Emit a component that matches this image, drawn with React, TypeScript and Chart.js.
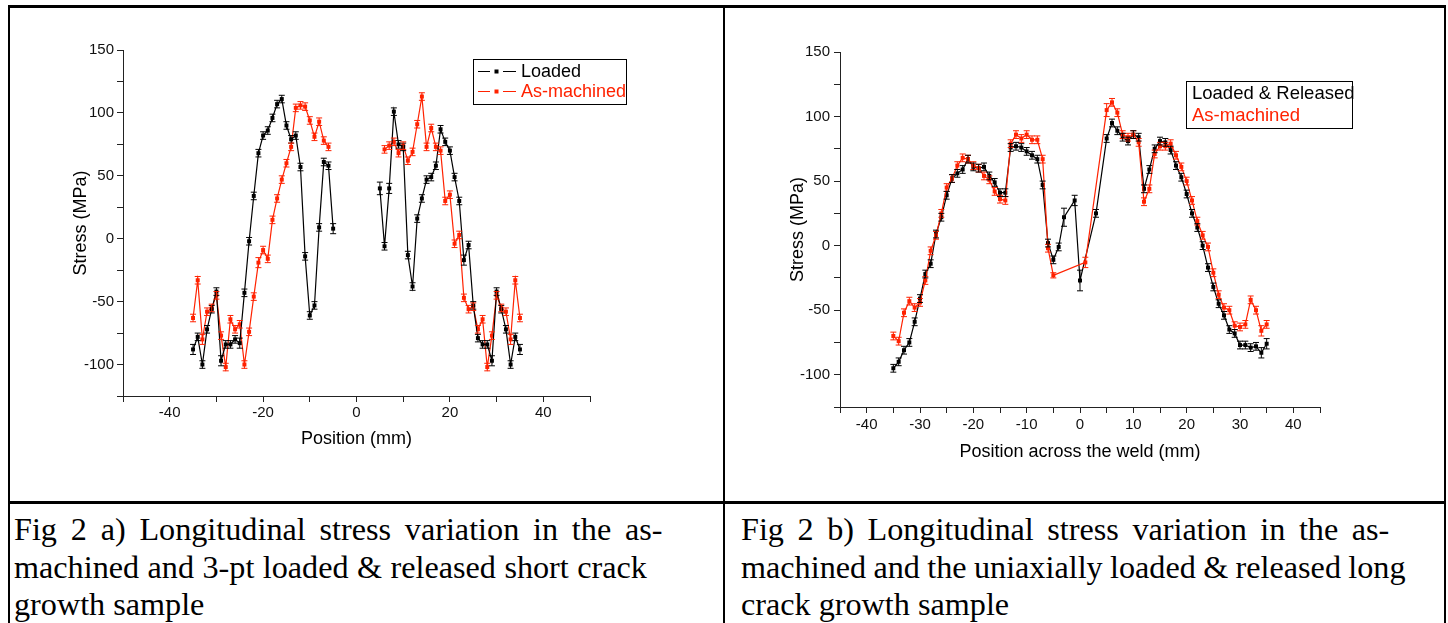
import React, { useEffect, useRef } from 'react';
import { Chart, registerables } from 'chart.js';

Chart.register(...registerables);
Chart.defaults.font.family = '"Liberation Sans", Arial, sans-serif';

const BLACK = '#000000';
const RED = '#ff2200';

// ---------- Fig 2 a) ----------
const aLoadedLeftPos = [-35, -34, -33, -32, -31, -30, -29, -28, -27, -26, -25, -24, -23, -22, -21, -20, -19, -18, -17, -16, -15, -14, -13, -12, -11, -10, -9, -8, -7, -6, -5];
const aLoadedLeftStress = [-88, -78, -100, -72, -56, -42, -97, -84, -84, -80, -83, -43, -2, 34, 68, 82, 86, 96, 107, 111, 90, 79, 82, 57, -14, -61, -53, 9, 61, 58, 8];
const aLoadedLeftErr = [4, 3, 3, 3, 3, 3, 4, 3, 3, 3, 4, 3, 3, 3, 3, 3, 3, 3, 3, 3, 3, 3, 3, 3, 3, 3, 3, 3, 3, 3, 4];
const aLoadedRightPos = [5, 6, 7, 8, 9, 10, 11, 12, 13, 14, 15, 16, 17, 18, 19, 20, 21, 22, 23, 24, 25, 26, 27, 28, 29, 30, 31, 32, 33, 34, 35];
const aLoadedRightStress = [40, -6, 40, 101, 75, 73, -13, -38, 16, 32, 47, 49, 58, 87, 77, 70, 49, 30, -17, -5, -53, -79, -84, -84, -97, -42, -56, -72, -100, -78, -88];
const aLoadedRightErr = [5, 3, 4, 3, 3, 3, 3, 3, 3, 3, 3, 3, 3, 3, 3, 3, 3, 3, 4, 3, 3, 3, 3, 3, 4, 3, 3, 3, 3, 3, 4];

const aMachinedLeftPos = [-35, -34, -33, -32, -31, -30, -29, -28, -27, -26, -25, -24, -23, -22, -21, -20, -19, -18, -17, -16, -15, -14, -13, -12, -11, -10, -9, -8, -7, -6];
const aMachinedLeftStress = [-63, -33, -80, -58, -55, -45, -77, -102, -64, -72, -68, -100, -74, -46, -19, -9, -16, 15, 32, 47, 60, 73, 104, 106, 105, 94, 81, 93, 78, 73];
const aMachinedLeftErr = [3, 3, 4, 3, 3, 3, 3, 3, 3, 3, 3, 3, 3, 3, 4, 3, 3, 3, 3, 3, 3, 3, 3, 3, 3, 3, 3, 3, 3, 3];
const aMachinedRightPos = [6, 7, 8, 9, 10, 11, 12, 13, 14, 15, 16, 17, 18, 19, 20, 21, 22, 23, 24, 25, 26, 27, 28, 29, 30, 31, 32, 33, 34, 35];
const aMachinedRightStress = [71, 74, 77, 68, 74, 62, 69, 91, 113, 73, 88, 73, 70, 30, 35, -4, 3, -47, -56, -54, -72, -64, -102, -77, -45, -55, -58, -80, -33, -63];
const aMachinedRightErr = [3, 3, 3, 3, 3, 3, 3, 3, 3, 3, 3, 3, 3, 3, 3, 3, 3, 3, 3, 3, 3, 3, 3, 3, 3, 3, 3, 4, 3, 3];

const aXTickLabels = [-40, -20, 0, 20, 40];
const aYTickLabels = [-100, -50, 0, 50, 100, 150];

// ---------- Fig 2 b) ----------
const bReleasedPos = [-35, -34, -33, -32, -31, -30, -29, -28, -27, -26, -25, -24, -23, -22, -21, -20, -19, -18, -17, -16, -15, -14, -13, -12, -11, -10, -9, -8, -7, -6, -5, -4, -3, -1, 0, 3, 5, 6, 7, 8, 9, 10, 11, 12, 13, 14, 15, 16, 17, 18, 19, 20, 21, 22, 23, 24, 25, 26, 27, 28, 29, 30, 31, 32, 33, 34, 35];
const bReleasedStress = [-95, -90, -81, -75, -59, -41, -22, -14, 9, 22, 39, 52, 56, 59, 67, 61, 60, 61, 54, 49, 41, 41, 76, 77, 76, 73, 70, 67, 47, 2, -11, -1, 22, 35, -27, 25, 83, 95, 89, 84, 81, 86, 84, 44, 59, 75, 81, 80, 74, 62, 53, 40, 25, 14, 0, -17, -32, -45, -54, -65, -68, -77, -77, -79, -78, -83, -76];
const bReleasedErr = [3, 3, 3, 3, 3, 3, 3, 3, 3, 3, 3, 3, 3, 3, 3, 3, 3, 3, 3, 3, 3, 3, 3, 3, 3, 3, 3, 3, 3, 3, 3, 3, 7, 4, 8, 3, 3, 3, 3, 3, 3, 3, 3, 3, 3, 3, 3, 3, 3, 3, 3, 3, 3, 3, 3, 3, 3, 3, 3, 3, 3, 3, 3, 3, 3, 4, 4];

const bMachinedPos = [-35, -34, -33, -32, -31, -30, -29, -28, -27, -26, -25, -24, -23, -22, -21, -20, -19, -18, -17, -16, -15, -14, -13, -12, -11, -10, -9, -8, -7, -6, -5, 1, 5, 6, 7, 8, 9, 10, 11, 12, 13, 14, 15, 16, 17, 18, 19, 20, 21, 22, 23, 24, 25, 26, 27, 28, 29, 30, 31, 32, 33, 34, 35];
const bMachinedStress = [-70, -74, -52, -43, -48, -44, -27, -4, 8, 25, 45, 52, 62, 68, 67, 62, 60, 54, 51, 42, 36, 35, 79, 86, 83, 86, 82, 82, 67, -2, -23, -13, 105, 111, 103, 86, 84, 86, 80, 34, 44, 71, 77, 77, 79, 70, 61, 50, 35, 19, 8, -1, -21, -38, -48, -50, -62, -63, -61, -42, -50, -66, -61];
const bMachinedErr = [3, 3, 3, 3, 3, 3, 3, 3, 3, 3, 3, 3, 3, 3, 3, 3, 3, 3, 3, 3, 3, 3, 3, 3, 3, 3, 3, 3, 3, 3, 2, 4, 5, 3, 3, 3, 3, 3, 3, 3, 3, 3, 3, 3, 3, 3, 3, 3, 3, 3, 3, 3, 3, 3, 3, 3, 3, 3, 3, 3, 3, 4, 3];

const bXTickLabels = [-40, -30, -20, -10, 0, 10, 20, 30, 40];
const bYTickLabels = [-100, -50, 0, 50, 100, 150];

const captionA = ['Fig 2 a) Longitudinal stress variation in the as-', 'machined and 3-pt loaded & released short crack', 'growth sample'];
const captionB = ['Fig 2 b) Longitudinal stress variation in the as-', 'machined and the uniaxially loaded & released long', 'crack growth sample'];

type Seg = { pos: number[]; val: number[]; err: number[] };

function buildSeries(segs: Seg[]) {
  const data: { x: number; y: number | null }[] = [];
  const errors: number[] = [];
  segs.forEach((s, k) => {
    if (k > 0) {
      const prev = segs[k - 1];
      data.push({ x: (prev.pos[prev.pos.length - 1] + s.pos[0]) / 2, y: null });
      errors.push(0);
    }
    s.pos.forEach((p, i) => {
      data.push({ x: p, y: s.val[i] });
      errors.push(s.err[i]);
    });
  });
  return { data, errors };
}

function makeDataset(label: string, color: string, series: { data: any[]; errors: number[] }, order: number) {
  return {
    label,
    data: series.data,
    errors: series.errors,
    borderColor: color,
    backgroundColor: color,
    borderWidth: 1.2,
    pointStyle: 'rect',
    pointRadius: 2.8,
    pointBorderWidth: 0,
    pointBackgroundColor: color,
    spanGaps: false,
    tension: 0,
    order,
  } as any;
}

const errorBarPlugin = {
  id: 'errorBars',
  afterDatasetsDraw(chart: any) {
    const ctx = chart.ctx;
    const yScale = chart.scales.y;
    ctx.save();
    chart.data.datasets.forEach((ds: any, i: number) => {
      const meta = chart.getDatasetMeta(i);
      ctx.strokeStyle = ds.borderColor;
      ctx.lineWidth = 1;
      meta.data.forEach((pt: any, j: number) => {
        const raw = ds.data[j];
        if (raw.y === null || raw.y === undefined) return;
        const e = ds.errors[j];
        const yt = yScale.getPixelForValue(raw.y + e);
        const yb = yScale.getPixelForValue(raw.y - e);
        const x = pt.x;
        ctx.beginPath();
        ctx.moveTo(x, yt);
        ctx.lineTo(x, yb);
        ctx.moveTo(x - 3, yt);
        ctx.lineTo(x + 3, yt);
        ctx.moveTo(x - 3, yb);
        ctx.lineTo(x + 3, yb);
        ctx.stroke();
      });
    });
    ctx.restore();
  },
};

type LegendItem = { text: string; color: string; symbol: boolean; y: number };
type LegendCfg = { box: [number, number, number, number]; textX: number; fontSize: number; symX?: [number, number, number, number]; items: LegendItem[] };

function legendPlugin(cfg: LegendCfg) {
  return {
    id: 'figLegend',
    afterDraw(chart: any) {
      const ctx = chart.ctx;
      ctx.save();
      const [bx, by, bw, bh] = cfg.box;
      ctx.strokeStyle = '#000';
      ctx.lineWidth = 1;
      ctx.strokeRect(bx + 0.5, by + 0.5, bw, bh);
      ctx.font = `${cfg.fontSize}px "Liberation Sans", Arial, sans-serif`;
      ctx.textBaseline = 'middle';
      ctx.textAlign = 'left';
      cfg.items.forEach((it) => {
        if (it.symbol && cfg.symX) {
          const [l1, l2, r1, r2] = cfg.symX;
          ctx.strokeStyle = it.color;
          ctx.lineWidth = 1.2;
          ctx.beginPath();
          ctx.moveTo(l1, it.y + 0.5);
          ctx.lineTo(l2, it.y + 0.5);
          ctx.moveTo(r1, it.y + 0.5);
          ctx.lineTo(r2, it.y + 0.5);
          ctx.stroke();
          ctx.fillStyle = it.color;
          const cx = (l2 + r1) / 2;
          ctx.fillRect(cx - 2, it.y - 1.5, 4, 4);
        }
        ctx.fillStyle = it.color;
        ctx.fillText(it.text, cfg.textX, it.y + 1);
      });
      ctx.restore();
    },
  };
}

type AxisCfg = {
  xMin: number; xMax: number; xStep: number; xLabels: number[]; xTitle: string;
  yMin: number; yMax: number; yStep: number; yLabels: number[]; yTitle: string;
  padTop: number; padRight: number; yWidth: number; xHeight: number;
  xTickPad: number; yTickPad: number; xTitlePad: number; yTitlePad: number;
};

function makeOptions(c: AxisCfg) {
  const axisColor = '#222';
  return {
    responsive: false,
    animation: false,
    devicePixelRatio: 1,
    layout: { padding: { left: 0, top: c.padTop, right: c.padRight, bottom: 0 } },
    plugins: { legend: { display: false }, tooltip: { enabled: false } },
    scales: {
      x: {
        type: 'linear',
        min: c.xMin,
        max: c.xMax,
        afterFit: (s: any) => { s.height = c.xHeight; },
        ticks: {
          stepSize: c.xStep,
          autoSkip: false,
          maxRotation: 0,
          padding: c.xTickPad,
          color: '#111',
          font: { size: 15 },
          callback: (v: number) => (c.xLabels.includes(v) ? String(v) : ''),
        },
        grid: { drawOnChartArea: false, drawTicks: true, tickLength: 6, color: axisColor, tickColor: axisColor, lineWidth: 1 },
        border: { display: true, color: axisColor, width: 1 },
        title: { display: true, text: c.xTitle, color: '#000', font: { size: 18 }, padding: { top: 0, bottom: c.xTitlePad } },
      },
      y: {
        type: 'linear',
        min: c.yMin,
        max: c.yMax,
        afterFit: (s: any) => { s.width = c.yWidth; },
        ticks: {
          stepSize: c.yStep,
          autoSkip: false,
          padding: c.yTickPad,
          color: '#111',
          font: { size: 15 },
          callback: (v: number) => (c.yLabels.includes(v) ? String(v) : ''),
        },
        grid: { drawOnChartArea: false, drawTicks: true, tickLength: 6, color: axisColor, tickColor: axisColor, lineWidth: 1 },
        border: { display: true, color: axisColor, width: 1 },
        title: { display: true, text: c.yTitle, color: '#000', font: { size: 18 }, padding: { top: c.yTitlePad, bottom: 0 } },
      },
    },
  } as any;
}

function ChartA() {
  const ref = useRef<HTMLCanvasElement>(null);
  useEffect(() => {
    if (!ref.current) return;
    const loaded = buildSeries([
      { pos: aLoadedLeftPos, val: aLoadedLeftStress, err: aLoadedLeftErr },
      { pos: aLoadedRightPos, val: aLoadedRightStress, err: aLoadedRightErr },
    ]);
    const machined = buildSeries([
      { pos: aMachinedLeftPos, val: aMachinedLeftStress, err: aMachinedLeftErr },
      { pos: aMachinedRightPos, val: aMachinedRightStress, err: aMachinedRightErr },
    ]);
    const chart = new Chart(ref.current, {
      type: 'line',
      data: {
        datasets: [
          makeDataset('Loaded', BLACK, loaded, 1),
          makeDataset('As-machined', RED, machined, 2),
        ],
      },
      options: makeOptions({
        xMin: -50, xMax: 50, xStep: 10, xLabels: aXTickLabels, xTitle: 'Position (mm)',
        yMin: -125, yMax: 150, yStep: 25, yLabels: aYTickLabels, yTitle: 'Stress (MPa)',
        padTop: 50, padRight: 134, yWidth: 123, xHeight: 84,
        xTickPad: 2, yTickPad: 3, xTitlePad: 30, yTitlePad: 70,
      }),
      plugins: [
        errorBarPlugin,
        legendPlugin({
          box: [473, 59, 153, 45],
          textX: 521,
          fontSize: 18,
          symX: [478, 490, 503, 516],
          items: [
            { text: 'Loaded', color: BLACK, symbol: true, y: 71 },
            { text: 'As-machined', color: RED, symbol: true, y: 91 },
          ],
        }),
      ],
    } as any);
    return () => chart.destroy();
  }, []);
  return <canvas ref={ref} width={724} height={480} style={{ position: 'absolute', left: 0, top: 0, width: 724, height: 480 }} />;
}

function ChartB() {
  const ref = useRef<HTMLCanvasElement>(null);
  useEffect(() => {
    if (!ref.current) return;
    const released = buildSeries([{ pos: bReleasedPos, val: bReleasedStress, err: bReleasedErr }]);
    const machined = buildSeries([{ pos: bMachinedPos, val: bMachinedStress, err: bMachinedErr }]);
    const chart = new Chart(ref.current, {
      type: 'line',
      data: {
        datasets: [
          makeDataset('As-machined', RED, machined, 1),
          makeDataset('Loaded & Released', BLACK, released, 2),
        ],
      },
      options: makeOptions({
        xMin: -45, xMax: 45, xStep: 5, xLabels: bXTickLabels, xTitle: 'Position across the weld (mm)',
        yMin: -125, yMax: 150, yStep: 25, yLabels: bYTickLabels, yTitle: 'Stress (MPa)',
        padTop: 52, padRight: 128, yWidth: 116, xHeight: 73,
        xTickPad: 3, yTickPad: 4, xTitlePad: 17, yTitlePad: 63,
      }),
      plugins: [
        errorBarPlugin,
        legendPlugin({
          box: [462, 81, 166, 47],
          textX: 468,
          fontSize: 18.5,
          items: [
            { text: 'Loaded & Released', color: BLACK, symbol: false, y: 93 },
            { text: 'As-machined', color: RED, symbol: false, y: 115 },
          ],
        }),
      ],
    } as any);
    return () => chart.destroy();
  }, []);
  return <canvas ref={ref} width={724} height={480} style={{ position: 'absolute', left: 724, top: 0, width: 724, height: 480 }} />;
}

const line = (l: number, t: number, w: number, h: number) => (
  <div style={{ position: 'absolute', left: l, top: t, width: w, height: h, background: '#000' }} />
);

const captionStyle: React.CSSProperties = {
  position: 'absolute',
  top: 511,
  font: '32.2px "Liberation Serif", "Times New Roman", serif',
  lineHeight: '37.5px',
  whiteSpace: 'nowrap',
  color: '#000',
};

const captionASpacing = [5.75, 0.4, 0];
const captionBSpacing = [5.5, -0.7, 0];

export default function App() {
  return (
    <div style={{ position: 'absolute', left: 0, top: 0, width: 1448, height: 623, background: '#fff', overflow: 'hidden' }}>
      <ChartA />
      <ChartB />
      {line(8, 5, 1438, 3)}
      {line(8, 5, 2, 618)}
      {line(723, 5, 2, 618)}
      {line(1444, 5, 2, 618)}
      {line(8, 501, 1438, 3)}
      <div style={{ ...captionStyle, left: 14 }}>
        {captionA.map((t, i) => (<div key={i} style={{ wordSpacing: captionASpacing[i] }}>{t}</div>))}
      </div>
      <div style={{ ...captionStyle, left: 741 }}>
        {captionB.map((t, i) => (<div key={i} style={{ wordSpacing: captionBSpacing[i] }}>{t}</div>))}
      </div>
    </div>
  );
}
